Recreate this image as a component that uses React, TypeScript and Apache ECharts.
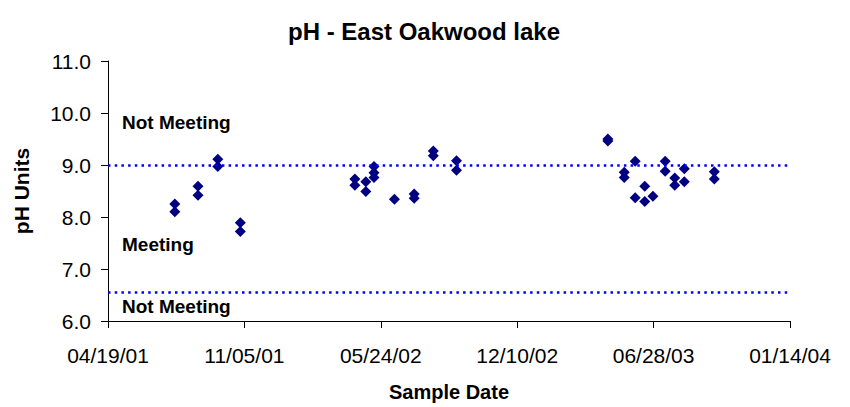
import React, { useEffect, useRef } from "react";
import * as echarts from "echarts";

const BASE_DATE = "2001-04-19";
const X_TICK_DAYS = 200;
const X_MAX_DAYS = 1000;
const Y_TICKS = [6, 7, 8, 9, 10, 11];
const UPPER_LIMIT = 9.0;
const LOWER_LIMIT = 6.55;

const sampleDates = [
  "2001-07-26", "2001-07-26", "2001-08-29", "2001-08-29", "2001-09-27", "2001-09-27", "2001-10-30", "2001-10-30",
  "2002-04-16", "2002-04-16", "2002-05-02", "2002-05-02", "2002-05-14", "2002-05-14", "2002-05-14", "2002-06-13",
  "2002-07-12", "2002-07-12", "2002-08-09", "2002-08-09", "2002-09-12", "2002-09-12",
  "2003-04-22", "2003-04-22", "2003-05-16", "2003-05-16", "2003-06-01", "2003-06-01", "2003-06-15", "2003-06-15",
  "2003-06-27", "2003-07-15", "2003-07-15", "2003-07-29", "2003-07-29", "2003-08-12", "2003-08-12", "2003-09-25", "2003-09-25",
];
const phValues = [
  8.25, 8.10, 8.59, 8.42, 9.11, 8.97, 7.89, 7.72,
  8.73, 8.61, 8.68, 8.49, 8.97, 8.85, 8.76, 8.34,
  8.44, 8.36, 9.27, 9.18, 9.08, 8.90,
  9.50, 9.46, 8.86, 8.76, 9.07, 8.37, 8.59, 8.30,
  8.40, 9.07, 8.88, 8.75, 8.61, 8.93, 8.68, 8.87, 8.73,
];

const zoneLabels = ["Not Meeting", "Meeting", "Not Meeting"];

const DAY = 86400000;
function toUTC(s: string) {
  const [y, m, d] = s.split("-").map(Number);
  return Date.UTC(y, m - 1, d);
}
const baseMs = toUTC(BASE_DATE);
function dayOffset(s: string) {
  return Math.round((toUTC(s) - baseMs) / DAY);
}
function fmtDay(v: number) {
  const dt = new Date(baseMs + v * DAY);
  const mm = String(dt.getUTCMonth() + 1).padStart(2, "0");
  const dd = String(dt.getUTCDate()).padStart(2, "0");
  const yy = String(dt.getUTCFullYear() % 100).padStart(2, "0");
  return `${mm}/${dd}/${yy}`;
}

const FONT = "Liberation Sans, Arial, sans-serif";

export default function App() {
  const ref = useRef<HTMLDivElement>(null);
  useEffect(() => {
    document.body.style.margin = "0";
    if (!ref.current) return;
    const chart = echarts.init(ref.current, undefined, { renderer: "svg" });
    const data = sampleDates.map((d, i) => [dayOffset(d), phValues[i]]);
    chart.setOption({
      animation: false,
      backgroundColor: "#ffffff",
      title: {
        text: "pH - East Oakwood lake",
        left: 419,
        top: 14,
        textAlign: "center",
        textStyle: { fontFamily: FONT, fontSize: 24, fontWeight: "bold", color: "#000" },
      },
      grid: { left: 108, right: 60, top: 61, bottom: 85, containLabel: false },
      xAxis: {
        type: "value",
        min: 0,
        max: X_MAX_DAYS,
        interval: X_TICK_DAYS,
        name: "Sample Date",
        nameLocation: "middle",
        nameGap: 61,
        nameTextStyle: { fontFamily: FONT, fontSize: 20, fontWeight: "bold", color: "#000" },
        axisLine: { show: true, onZero: false, lineStyle: { color: "#000", width: 1 } },
        axisTick: { show: true, inside: false, length: 7, lineStyle: { color: "#000" } },
        axisLabel: {
          formatter: (v: number) => fmtDay(v),
          fontFamily: FONT,
          fontSize: 21,
          color: "#000",
          margin: 24,
        },
        splitLine: { show: false },
      },
      yAxis: {
        type: "value",
        min: Y_TICKS[0],
        max: Y_TICKS[Y_TICKS.length - 1],
        interval: 1,
        name: "pH Units",
        nameLocation: "middle",
        nameGap: 76,
        nameRotate: 90,
        nameTextStyle: { fontFamily: FONT, fontSize: 21, fontWeight: "bold", color: "#000" },
        axisLine: { show: true, lineStyle: { color: "#000", width: 1 } },
        axisTick: { show: true, inside: false, length: 7, lineStyle: { color: "#000" } },
        axisLabel: {
          formatter: (v: number) => v.toFixed(1),
          fontFamily: FONT,
          fontSize: 21,
          color: "#000",
          margin: 17,
        },
        splitLine: { show: false },
      },
      series: [
        {
          type: "scatter",
          data,
          symbol: "diamond",
          symbolSize: 11,
          itemStyle: { color: "#000080", opacity: 1 },
          markLine: {
            silent: true,
            symbol: ["none", "none"],
            label: { show: false },
            lineStyle: { color: "#0000ff", width: 2.5, type: [2.5, 4.2] },
            data: [{ yAxis: UPPER_LIMIT }, { yAxis: LOWER_LIMIT }],
          },
        },
      ],
      graphic: [
        { type: "text", left: 122, top: 113, style: { text: zoneLabels[0], fontFamily: FONT, fontSize: 19, fontWeight: "bold", fill: "#000" } },
        { type: "text", left: 122, top: 235, style: { text: zoneLabels[1], fontFamily: FONT, fontSize: 19, fontWeight: "bold", fill: "#000" } },
        { type: "text", left: 122, top: 297, style: { text: zoneLabels[2], fontFamily: FONT, fontSize: 19, fontWeight: "bold", fill: "#000" } },
      ],
    });
    return () => chart.dispose();
  }, []);
  return <div ref={ref} style={{ width: 850, height: 407 }} />;
}
